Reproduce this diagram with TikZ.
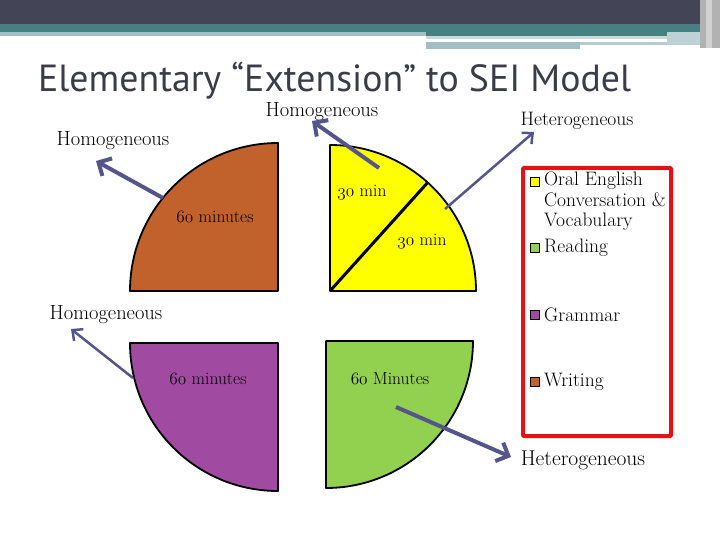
\documentclass[tikz,border=0pt]{standalone}
\usepackage{fontspec}
\usepackage{xcolor}
\usepackage{tikz}
\usetikzlibrary{arrows.meta}
\newfontfamily\titlefont{PT Sans}
\newcommand\osnum[1]{{\usefont{OML}{cmm}{m}{it}#1}}
\definecolor{hdrdark}{RGB}{67,68,86}
\definecolor{hdrteal}{RGB}{70,128,131}
\definecolor{hdrlight}{RGB}{163,191,195}
\definecolor{titlegray}{RGB}{60,60,72}
\definecolor{writingc}{RGB}{193,98,44}
\definecolor{grammarc}{RGB}{160,74,162}
\definecolor{readingc}{RGB}{146,208,80}
\definecolor{oralc}{RGB}{255,255,0}
\definecolor{arrowblue}{RGB}{85,85,140}
\definecolor{legendred}{RGB}{228,18,18}

\begin{document}
\begin{tikzpicture}[x=1pt, y=-1pt,
    quarter/.style={draw=black, line width=1.8pt, line join=round},
    outer/.style={inner sep=0pt, font=\fontsize{20.5}{24}\selectfont},
    timetext/.style={inner sep=0pt, font=\fontsize{17.5}{20}\selectfont},
    pointer/.style={draw=arrowblue, line width=4pt, -{Straight Barb[length=10pt,width=20pt]}},
    thinpointer/.style={draw=arrowblue, line width=2.5pt, -{Straight Barb[length=8pt,width=15pt]}},
    swatch/.style={draw=black, line width=1.5pt, minimum size=9pt, inner sep=0pt},
    legtext/.style={anchor=west, inner sep=0pt, font=\fontsize{19.5}{20.5}\selectfont}
]
    \useasboundingbox (0,0) rectangle (720,540);
    \fill[white] (0,0) rectangle (720,540);
    \fill[hdrdark] (0,0) rectangle (720,24);
    \fill[hdrteal] (0,24) rectangle (700,32);
    \fill[hdrteal] (426,32) rectangle (700,36);
    \fill[hdrlight] (0,32) rectangle (426,36);
    \fill[hdrlight!60] (426,36) rectangle (667,39);
    \fill[hdrlight] (426,42) rectangle (580,49);
    \fill[hdrlight!80] (580,42) rectangle (667,45);
    \fill[hdrlight!70] (667,32) rectangle (700,45);
    \fill[gray!60] (700,0) rectangle (720,48);
    \fill[gray!35] (706,0) rectangle (712,48);
    \node[anchor=base west, inner sep=0pt, text=titlegray, font=\titlefont\fontsize{37.8}{40}\selectfont] (title) at (38,92) {Elementary “Extension” to SEI Model};

    \draw[quarter, fill=writingc] (278,291) -- (130,291) arc[start angle=180, end angle=270, radius=148] -- cycle;
    \draw[quarter, fill=oralc] (330,291) -- (476,291) arc[start angle=0, end angle=-90, radius=146] -- cycle;
    \draw[line width=3pt] (330,291) -- ++(-48:146);
    \draw[quarter, fill=grammarc] (278,343) -- (278,491) arc[start angle=90, end angle=180, radius=148] -- cycle;
    \draw[quarter, fill=readingc] (326,341) -- (473,341) arc[start angle=0, end angle=90, radius=147] -- cycle;

    \node[timetext] (writemin) at (215,217) {\osnum{60} minutes};
    \node[timetext] (oralminA) at (362,193) {\osnum{30} min};
    \node[timetext] (oralminB) at (422,242) {\osnum{30} min};
    \node[timetext] (grammin) at (208,379) {\osnum{60} minutes};
    \node[timetext] (readmin) at (390,379) {\osnum{60} Minutes};

    \node[outer] (homwrite) at (113,141) {Homogeneous};
    \node[outer] (homoral) at (322,112) {Homogeneous};
    \node[outer, font=\fontsize{19.5}{22}\selectfont] (hetoral) at (577,121) {Heterogeneous};
    \node[outer] (homgram) at (106,315) {Homogeneous};
    \node[outer, font=\fontsize{21.5}{24}\selectfont] (hetread) at (583,460) {Heterogeneous};

    \coordinate (writetail) at (163,198);
    \coordinate (writehead) at (96,161);
    \coordinate (oraltailA) at (379,168);
    \coordinate (oralheadA) at (312,121);
    \coordinate (oraltailB) at (445,209);
    \coordinate (oralheadB) at (534,132);
    \coordinate (gramtail) at (133,378);
    \coordinate (gramhead) at (71,329);
    \coordinate (readtail) at (396,407);
    \coordinate (readhead) at (511,457);
    \draw[pointer] (writetail) -- (writehead);
    \draw[pointer] (oraltailA) -- (oralheadA);
    \draw[thinpointer] (oraltailB) -- (oralheadB);
    \draw[thinpointer] (gramtail) -- (gramhead);
    \draw[pointer] (readtail) -- (readhead);

    \draw[draw=legendred, line width=4pt, rounded corners=1pt] (523,168) rectangle (671,436);
    \node[swatch, fill=oralc] (oralbox) at (535,182) {};
    \node[swatch, fill=readingc] (readbox) at (535,248) {};
    \node[swatch, fill=grammarc] (grambox) at (535,315) {};
    \node[swatch, fill=writingc] (writebox) at (535,382) {};
    \node[legtext, anchor=north west, align=left] (oraltext) at (544,172) {Oral English\\Conversation \&\\Vocabulary};
    \node[legtext] (readtext) at (544,248) {Reading};
    \node[legtext] (gramtext) at (544,315) {Grammar};
    \node[legtext] (writetext) at (544,382) {Writing};
\end{tikzpicture}
\end{document}
